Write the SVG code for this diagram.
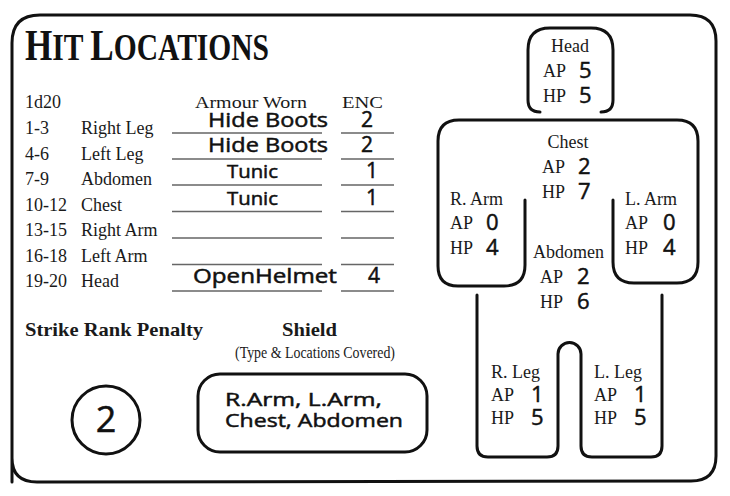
<svg xmlns="http://www.w3.org/2000/svg" width="730" height="496" viewBox="0 0 730 496">
<style>
.s{font-family:"Liberation Serif","Times New Roman",serif;font-size:18px;fill:#1a1a1a}
.h{font-family:"Liberation Serif",serif;font-size:17px;fill:#1a1a1a}
.b{font-family:"Liberation Serif",serif;font-size:19px;font-weight:bold;fill:#1a1a1a}
.w{font-family:"Open Sans","DejaVu Sans",sans-serif;font-weight:normal;fill:#111;stroke:#111;stroke-width:0.5}
.ln{stroke:#666;stroke-width:1.5;fill:none}
.o{fill:none;stroke:#111;stroke-width:3;stroke-linecap:round;stroke-linejoin:round}
</style>
<rect width="730" height="496" fill="#fff"/>
<path class="o" d="M12,482 L12,43 Q12,15 40,15 L690,15 Q716,15 716,41 L716,456 Q716,481 691,481 L37,482 Q12,482 12,458 Z"/>
<g id="title">
<text x="25" y="60" textLength="244" lengthAdjust="spacingAndGlyphs" font-family="Liberation Serif,serif" font-weight="bold" fill="#111"><tspan font-size="44">H</tspan><tspan font-size="37">IT </tspan><tspan font-size="44">L</tspan><tspan font-size="37">OCATIONS</tspan></text>
</g>
<g id="table">
<text class="s" x="25" y="108">1d20</text>
<text class="h" x="195" y="108" textLength="112" lengthAdjust="spacingAndGlyphs">Armour Worn</text>
<text class="h" x="342" y="108" textLength="41" lengthAdjust="spacingAndGlyphs">ENC</text>
<text class="s" x="25" y="134">1-3</text><text class="s" x="81" y="134">Right Leg</text>
<text class="s" x="25" y="159.5">4-6</text><text class="s" x="81" y="159.5">Left Leg</text>
<text class="s" x="25" y="185">7-9</text><text class="s" x="81" y="185">Abdomen</text>
<text class="s" x="25" y="210.5">10-12</text><text class="s" x="81" y="210.5">Chest</text>
<text class="s" x="25" y="236">13-15</text><text class="s" x="81" y="236">Right Arm</text>
<text class="s" x="25" y="261.5">16-18</text><text class="s" x="81" y="261.5">Left Arm</text>
<text class="s" x="25" y="287">19-20</text><text class="s" x="81" y="287">Head</text>
<g class="ln">
<path d="M172,133H322M341,133H394"/>
<path d="M172,159H322M341,159H394"/>
<path d="M172,185H322M341,185H394"/>
<path d="M172,211.5H322M341,211.5H394"/>
<path d="M172,238H322M341,238H394"/>
<path d="M172,264.5H322M341,264.5H394"/>
<path d="M172,291H322M341,291H394"/>
</g>
<text class="w" x="208" y="127" font-size="20" textLength="120" lengthAdjust="spacingAndGlyphs">Hide Boots</text>
<text class="w" x="208" y="152" font-size="20" textLength="120" lengthAdjust="spacingAndGlyphs">Hide Boots</text>
<text class="w" x="227" y="178" font-size="18" textLength="51" lengthAdjust="spacingAndGlyphs">Tunic</text>
<text class="w" x="227" y="205" font-size="18" textLength="51" lengthAdjust="spacingAndGlyphs">Tunic</text>
<text class="w" x="193" y="283" font-size="20" textLength="144" lengthAdjust="spacingAndGlyphs">OpenHelmet</text>
<text class="w" x="367" y="127" font-size="21" text-anchor="middle">2</text>
<text class="w" x="367" y="152" font-size="21" text-anchor="middle">2</text>
<text class="w" x="372" y="178" font-size="21" text-anchor="middle">1</text>
<text class="w" x="372" y="205" font-size="21" text-anchor="middle">1</text>
<text class="w" x="374" y="283" font-size="21" text-anchor="middle">4</text>
</g>
<g id="strike-rank">
<text class="b" x="25" y="336" textLength="178" lengthAdjust="spacingAndGlyphs">Strike Rank Penalty</text>
<circle class="o" cx="106" cy="420" r="34"/>
<text class="w" x="106" y="432" font-size="36" text-anchor="middle" stroke-width="1">2</text>
</g>
<g id="shield">
<text class="b" x="282" y="336" textLength="55" lengthAdjust="spacingAndGlyphs">Shield</text>
<text class="h" x="235" y="358" font-size="12" textLength="160" lengthAdjust="spacingAndGlyphs">(Type &amp; Locations Covered)</text>
<rect class="o" x="198" y="374" width="229" height="78" rx="22"/>
<text class="w" x="225" y="406" font-size="19" textLength="157" lengthAdjust="spacingAndGlyphs">R.Arm, L.Arm,</text>
<text class="w" x="225" y="427" font-size="19" textLength="178" lengthAdjust="spacingAndGlyphs">Chest, Abdomen</text>
</g>
<g id="head">
<path class="o" d="M540,112 Q528,112 528,100 L528,50 Q528,28 550,28 L591,28 Q613,28 613,50 L613,100 Q613,112 601,112"/>
<text class="s" x="570" y="52" text-anchor="middle">Head</text>
<text class="s" x="543" y="77">AP</text><text class="w" x="579" y="78" font-size="22">5</text>
<text class="s" x="543" y="102">HP</text><text class="w" x="579" y="103" font-size="22">5</text>
</g>
<g id="torso">
<path class="o" d="M525,200 L525,265 Q525,286 504,286 L458,286 Q438,286 438,266 L438,141 Q438,120 459,120 L677,120 Q698,120 698,141 L698,262 Q698,283 677,283 L634,283 Q613,283 613,262 L613,200"/>
<text class="s" x="568" y="148" text-anchor="middle">Chest</text>
<text class="s" x="542" y="173">AP</text><text class="w" x="578" y="174" font-size="22">2</text>
<text class="s" x="542" y="198">HP</text><text class="w" x="578" y="199" font-size="22">7</text>
<text class="s" x="450" y="205">R. Arm</text>
<text class="s" x="450" y="229">AP</text><text class="w" x="486" y="230" font-size="22">0</text>
<text class="s" x="450" y="254">HP</text><text class="w" x="486" y="255" font-size="22">4</text>
<text class="s" x="625" y="205">L. Arm</text>
<text class="s" x="625" y="229">AP</text><text class="w" x="663" y="230" font-size="22">0</text>
<text class="s" x="625" y="254">HP</text><text class="w" x="663" y="255" font-size="22">4</text>
<text class="s" x="533" y="258">Abdomen</text>
<text class="s" x="540" y="283">AP</text><text class="w" x="577" y="284" font-size="22">2</text>
<text class="s" x="540" y="308">HP</text><text class="w" x="577" y="309" font-size="22">6</text>
</g>
<g id="legs">
<path class="o" d="M477,295 L477,446 Q477,457 488,457 L547,457 Q558,457 558,446 L558,354 A11.5,11.5 0 0 1 581,354 L581,446 Q581,457 592,457 L651,457 Q662,457 662,446 L662,295"/>
<text class="s" x="491" y="378">R. Leg</text>
<text class="s" x="491" y="401">AP</text><text class="w" x="531" y="402" font-size="22">1</text>
<text class="s" x="491" y="424">HP</text><text class="w" x="531" y="425" font-size="22">5</text>
<text class="s" x="594" y="378">L. Leg</text>
<text class="s" x="594" y="401">AP</text><text class="w" x="634" y="402" font-size="22">1</text>
<text class="s" x="594" y="424">HP</text><text class="w" x="634" y="425" font-size="22">5</text>
</g>
</svg>
